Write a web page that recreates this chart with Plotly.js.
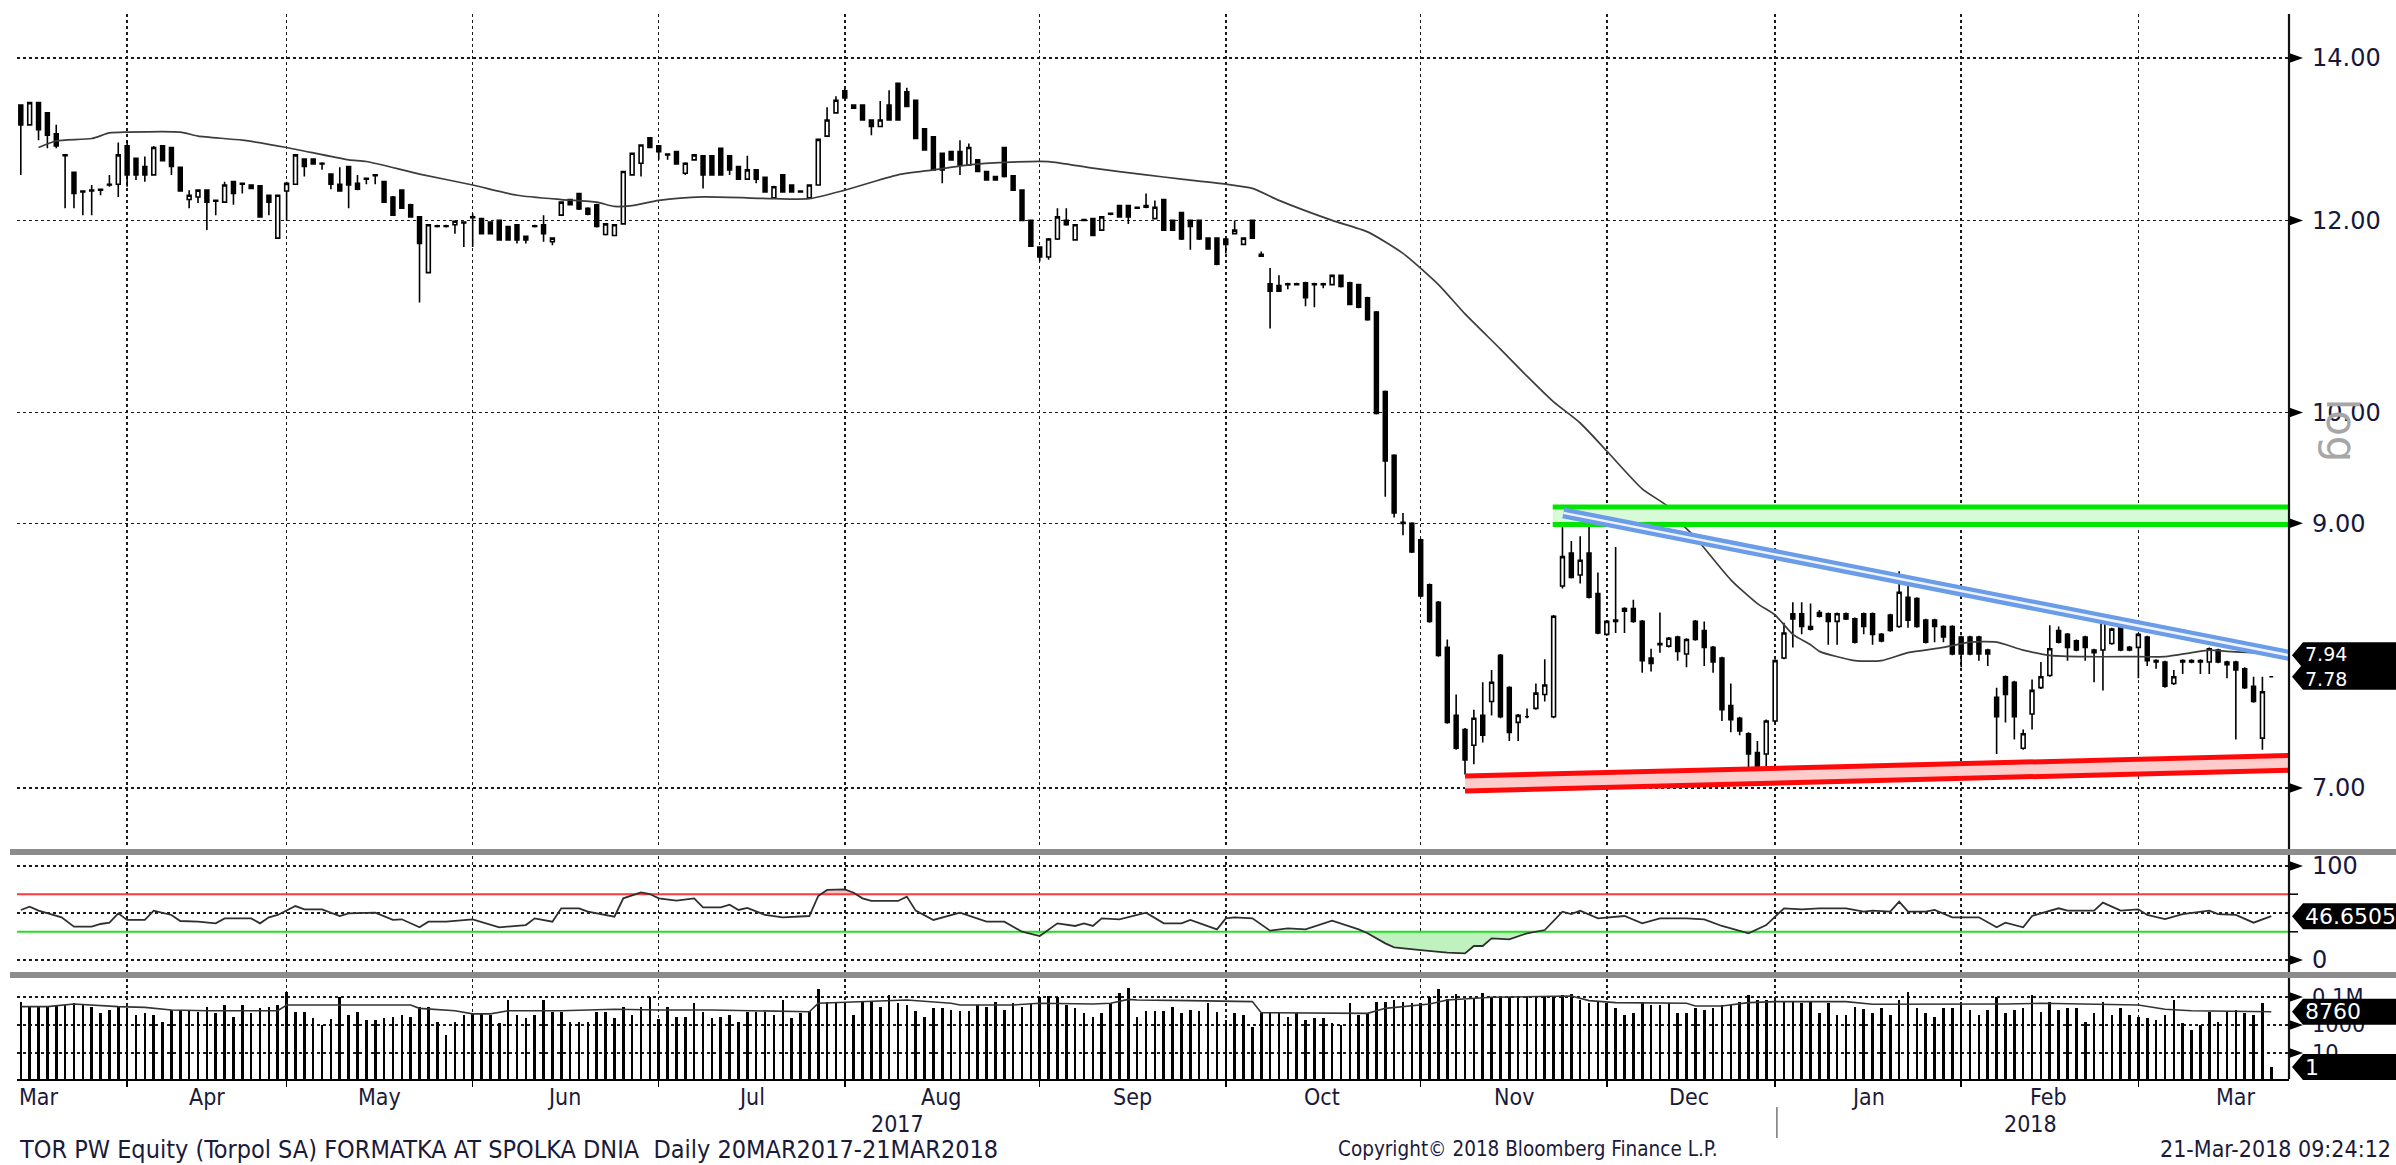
<!DOCTYPE html>
<html><head><meta charset="utf-8">
<script src="https://cdn.plot.ly/plotly-3.0.1.min.js"></script>
<style>html,body{margin:0;padding:0;background:#fff;overflow:hidden}#chart{width:2396px;height:1165px}</style>
</head><body><div id="chart"></div>
<script>
// ---------------- DATA ----------------
const openP = [
13.39,13.14,13.42,13.29,13.03,12.77,12.56,12.34,12.35,12.36,
12.42,12.42,12.88,12.73,12.63,12.53,12.88,12.86,12.62,12.24,
12.27,12.35,12.23,12.21,12.45,12.43,12.41,12.40,12.29,11.80,
12.34,12.42,12.72,12.72,12.67,12.54,12.42,12.63,12.43,12.49,
12.53,12.45,12.27,12.35,12.18,12.04,11.42,11.94,11.94,11.95,
11.98,12.04,12.02,11.98,12.00,11.93,11.95,11.82,11.94,11.95,
11.76,12.06,12.24,12.31,12.14,12.18,11.84,11.83,11.96,12.53,
12.67,12.98,12.88,12.78,12.81,12.55,12.71,12.76,12.76,12.85,
12.76,12.63,12.48,12.59,12.50,12.26,12.53,12.41,12.34,12.26,
12.41,13.00,13.29,13.57,13.39,13.39,13.20,13.12,13.39,13.67,
13.56,13.45,13.09,12.99,12.79,12.81,12.81,12.65,12.71,12.57,
12.51,12.86,12.52,12.35,12.00,11.70,11.59,11.79,12.00,11.78,
12.01,12.02,11.89,12.08,12.17,12.17,12.15,12.17,12.02,12.24,
12.00,12.09,12.00,12.00,11.80,11.80,11.79,11.85,11.73,12.00,
11.60,11.30,11.28,11.30,11.30,11.31,11.30,11.30,11.29,11.39,
11.31,11.29,11.15,11.00,10.20,9.60,9.01,9.00,8.86,8.49,
8.35,8.00,7.50,7.40,7.29,7.50,7.60,7.94,7.70,7.45,
7.49,7.55,7.65,7.49,8.48,8.75,8.57,8.75,8.42,8.10,
8.21,8.28,8.30,8.20,7.92,8.03,8.01,8.08,7.95,8.20,
8.13,8.00,7.92,7.57,7.48,7.37,7.24,7.23,7.46,7.92,
8.26,8.26,8.14,8.27,8.26,8.20,8.26,8.22,8.26,8.26,
8.10,8.25,8.16,8.39,8.38,8.21,8.21,8.16,8.16,8.08,
8.08,8.08,7.98,7.63,7.78,7.74,7.27,7.51,7.70,7.79,
8.13,8.10,8.05,8.08,7.98,7.98,8.03,8.16,7.98,8.00,
8.08,7.90,7.89,7.73,7.90,7.90,7.90,7.89,7.98,7.87,
7.89,7.84,7.71,7.34,7.78];
const highP = [
13.40,13.43,13.43,13.30,13.14,12.78,12.57,12.35,12.41,12.37,
12.53,12.92,12.94,12.74,12.75,12.88,12.89,12.87,12.63,12.35,
12.36,12.36,12.24,12.45,12.46,12.43,12.42,12.41,12.30,12.30,
12.45,12.78,12.73,12.73,12.68,12.55,12.62,12.64,12.53,12.50,
12.54,12.46,12.28,12.36,12.19,12.05,11.96,11.95,11.95,12.00,
11.99,12.08,12.03,11.99,12.01,11.94,11.96,11.83,11.95,12.06,
11.81,12.22,12.25,12.32,12.15,12.19,11.97,11.96,12.58,12.80,
12.90,12.99,12.89,12.79,12.82,12.68,12.78,12.77,12.77,12.86,
12.77,12.64,12.76,12.60,12.51,12.40,12.54,12.42,12.35,12.42,
12.97,13.36,13.50,13.60,13.40,13.40,13.21,13.44,13.58,13.68,
13.61,13.46,13.10,13.00,12.80,12.82,12.95,12.91,12.72,12.58,
12.52,12.87,12.53,12.36,12.01,11.71,11.80,12.14,12.14,11.96,
12.02,12.03,12.05,12.09,12.18,12.18,12.16,12.31,12.23,12.25,
12.01,12.10,12.01,12.01,11.81,11.81,11.80,12.00,11.81,12.01,
11.65,11.47,11.39,11.31,11.31,11.32,11.31,11.31,11.40,11.40,
11.32,11.30,11.16,11.01,10.21,9.61,9.09,9.01,8.87,8.50,
8.36,8.06,7.65,7.41,7.54,7.74,7.83,7.95,7.71,7.51,
7.55,7.73,7.91,8.25,9.11,8.85,8.89,9.01,8.59,8.21,
8.80,8.31,8.37,8.21,7.99,8.27,8.08,8.09,8.07,8.21,
8.20,8.01,7.93,7.73,7.49,7.38,7.32,7.47,7.91,8.19,
8.35,8.35,8.34,8.29,8.27,8.27,8.27,8.23,8.27,8.27,
8.11,8.26,8.60,8.53,8.39,8.22,8.22,8.17,8.17,8.09,
8.09,8.09,7.99,7.70,7.79,7.75,7.40,7.76,7.89,8.17,
8.16,8.11,8.06,8.09,7.99,8.23,8.15,8.21,8.01,8.11,
8.09,7.91,7.90,7.83,7.91,7.91,7.91,8.00,7.99,7.90,
7.90,7.85,7.78,7.78,7.78];
const lowP = [
12.53,13.13,12.95,12.85,12.85,12.14,12.14,12.06,12.06,12.29,
12.39,12.27,12.39,12.47,12.45,12.52,12.69,12.53,12.33,12.14,
12.20,11.89,12.06,12.20,12.18,12.31,12.36,12.03,12.06,11.79,
12.00,12.41,12.51,12.65,12.59,12.36,12.33,12.14,12.35,12.42,
12.42,12.20,12.05,12.13,12.03,11.10,11.41,11.92,11.92,11.85,
11.70,11.70,11.84,11.84,11.77,11.77,11.74,11.74,11.92,11.76,
11.72,12.05,12.17,12.12,12.06,11.92,11.83,11.82,11.95,12.52,
12.51,12.85,12.71,12.71,12.65,12.53,12.70,12.37,12.52,12.52,
12.53,12.47,12.47,12.43,12.32,12.25,12.32,12.32,12.32,12.25,
12.40,12.99,13.28,13.47,13.34,13.19,13.01,13.11,13.19,13.19,
13.36,12.96,12.82,12.58,12.43,12.70,12.53,12.64,12.56,12.46,
12.46,12.50,12.34,11.99,11.70,11.54,11.56,11.78,11.94,11.77,
11.99,11.82,11.88,12.06,12.03,11.96,12.13,12.14,12.01,11.88,
11.88,11.78,11.67,11.78,11.67,11.50,11.63,11.84,11.72,11.79,
11.59,10.83,11.21,11.24,11.28,11.06,11.05,11.25,11.28,11.26,
11.07,11.04,10.91,9.98,9.23,9.05,8.90,8.75,8.39,8.19,
7.93,7.44,7.26,7.09,7.16,7.31,7.50,7.48,7.32,7.32,
7.48,7.54,7.60,7.48,8.46,8.54,8.50,8.38,8.10,8.09,
8.11,8.11,8.19,7.81,7.82,7.96,8.00,7.90,7.85,8.05,
7.86,7.81,7.46,7.38,7.36,7.12,7.13,7.12,7.45,7.91,
8.00,8.10,8.13,8.23,8.02,8.02,8.21,8.03,8.10,8.02,
8.04,8.12,8.15,8.15,8.15,8.03,8.04,8.04,7.94,7.85,
7.94,7.90,7.86,7.23,7.45,7.33,7.26,7.40,7.69,7.78,
8.03,7.90,7.97,7.90,7.74,7.68,8.02,7.97,7.97,7.77,
7.86,7.84,7.70,7.72,7.80,7.88,7.80,7.80,7.88,7.77,
7.33,7.69,7.59,7.26,7.78];
const closeP = [
13.14,13.42,13.08,13.01,12.88,12.76,12.31,12.33,12.34,12.35,
12.41,12.77,12.53,12.53,12.53,12.86,12.70,12.63,12.34,12.29,
12.35,12.21,12.22,12.41,12.31,12.42,12.37,12.04,12.21,12.29,
12.43,12.77,12.63,12.66,12.66,12.42,12.34,12.41,12.36,12.48,
12.52,12.21,12.06,12.14,12.04,11.74,11.95,11.93,11.93,11.99,
11.97,12.03,11.85,11.85,11.78,11.78,11.78,11.78,11.93,11.85,
11.80,12.21,12.18,12.13,12.07,11.93,11.96,11.95,12.57,12.79,
12.89,12.86,12.81,12.77,12.66,12.67,12.77,12.53,12.53,12.53,
12.59,12.48,12.59,12.48,12.33,12.39,12.33,12.33,12.33,12.41,
12.96,13.20,13.45,13.48,13.35,13.20,13.12,13.20,13.20,13.20,
13.37,12.97,12.83,12.59,12.59,12.71,12.65,12.86,12.57,12.47,
12.47,12.51,12.35,12.00,11.71,11.59,11.79,12.04,11.95,11.95,
12.00,11.83,12.04,12.07,12.04,12.04,12.14,12.15,12.15,11.89,
11.89,11.79,11.93,11.79,11.68,11.51,11.73,11.89,11.80,11.80,
11.62,11.22,11.22,11.29,11.29,11.15,11.29,11.29,11.39,11.27,
11.08,11.05,10.92,9.99,9.55,9.09,9.00,8.76,8.40,8.20,
7.94,7.45,7.27,7.19,7.48,7.36,7.74,7.49,7.38,7.50,
7.49,7.66,7.72,8.24,8.72,8.55,8.69,8.39,8.11,8.20,
8.20,8.30,8.20,7.90,7.88,8.02,8.07,7.97,8.06,8.06,
8.00,7.89,7.54,7.47,7.39,7.23,7.14,7.46,7.90,8.11,
8.22,8.16,8.16,8.24,8.20,8.26,8.22,8.04,8.16,8.10,
8.05,8.13,8.43,8.21,8.16,8.04,8.16,8.08,7.95,7.95,
7.95,7.95,7.95,7.49,7.65,7.49,7.37,7.68,7.78,7.99,
8.04,8.00,7.98,8.00,7.96,8.22,8.14,7.98,8.00,8.10,
7.90,7.89,7.71,7.78,7.89,7.89,7.89,7.99,7.89,7.89,
7.83,7.70,7.60,7.67,7.78];
const volume = [
46800,20400,20400,20400,22900,26900,35500,31600,20400,7600,
11700,22900,15500,5200,6800,5200,1740,11700,11700,11700,
8900,20400,6800,26900,3980,26900,6800,15500,20400,26900,
240000,8900,8900,3000,1000,2500,105000,5200,8900,2290,
2290,3000,3980,5200,3980,20400,20400,1740,195,1740,
5200,6800,6800,5200,1320,61700,5200,3000,5200,61700,
8900,8900,1740,1740,1740,8900,8900,3000,20400,5200,
20400,105000,2500,20400,3980,3980,35500,8900,3000,3980,
5200,1740,8900,8900,8900,5200,61700,3000,6800,10500,
350000,46800,46800,35500,5200,46800,46800,20400,138000,35500,
26900,10500,3980,15500,15500,11700,10500,10500,26900,20400,
46800,11700,35500,20400,35500,105000,117000,105000,26900,15500,
6800,3980,6800,35500,204000,468000,3980,10500,10500,10500,
20400,6800,11700,10500,39800,8900,2290,6800,5200,760,
6800,7600,6800,3980,6800,2290,3000,3000,1320,1000,
35500,5200,6800,46800,46800,61700,46800,35500,39800,105000,
350000,67600,162000,61700,67600,204000,105000,105000,105000,105000,
105000,105000,105000,105000,138000,162000,61700,35500,46800,35500,
15500,5200,6800,35500,26900,26900,35500,6800,6800,15500,
11700,15500,26900,26900,46800,138000,61700,61700,61700,46800,
46800,35500,46800,6800,35500,5200,5200,20400,12900,6800,
15500,5200,61700,240000,15500,6800,3980,15500,15500,46800,
11700,5200,11700,105000,6800,11700,15500,138000,8900,46800,
11700,15500,15500,1740,6800,46800,5200,15500,5200,3980,
3000,2290,5200,61700,1480,440,1000,8900,1740,8900,
11700,6800,5200,35500,1];

// price moving average (thin grey line), read at sample days
const maX = [2,4,8,10,12,18,20,25,30,37,39,45,51,56,61,65,67,69,72,77,85,89,93,99,103,107,111,116,121,127,131,136,139,142,148,152,156,160,163,167,170,173,176,179,183,186,187,189,193,196,198,200,202,203,207,210,213,217,220,223,226,229,233,239,242,245,247,249,252,254];
const maY = [12.86,12.94,12.97,13.04,13.05,13.05,13.00,12.95,12.86,12.71,12.69,12.54,12.41,12.29,12.24,12.21,12.16,12.17,12.23,12.27,12.25,12.25,12.35,12.53,12.59,12.65,12.68,12.69,12.61,12.53,12.48,12.42,12.37,12.23,12.00,11.87,11.63,11.29,10.98,10.62,10.35,10.10,9.90,9.64,9.30,9.14,9.03,8.88,8.53,8.34,8.25,8.10,8.02,7.97,7.90,7.90,7.96,8.00,8.04,8.04,7.98,7.94,7.93,7.93,7.93,7.96,7.98,7.97,7.96,7.95];

// RSI readings
const rsiX = [0,1,2,3,4.6,6,8,9,10,11,12,14,15,17,18,20,21,22,23,26,27,28,29,31,32,34,36,37,40,42,43,45,46,48,51,54,57,58,60,61,63,64,67,68,70,71,72,74,76,77,79,80,81,82,84,86,89,90,91,93,94,95,96,99,100,101,103,106,109,111,113,115,117,119,120,121,122,124,127,129,131,132,135,136,137,139,141,143,145,148,151,152,154,155,158,161,163,164,165,166,168,170,172,174,175,176,178,181,183,185,188,190,192,195,197,199,201,203,206,208,209,211,212,213,215,216,218,221,223,224,226,227,230,231,234,235,237,239,240,242,244,247,248,250,252,254];
const rsiY = [53.2,56.7,52.5,49.6,45.4,35.5,35.5,38.3,39.7,49.6,42.6,42.6,52.5,47.9,41.5,40.8,39.7,39.0,44.3,44.3,39.0,45.4,47.9,57.4,53.9,53.9,46.8,49.6,50.4,42.6,43.3,34.8,40.8,40.8,43.3,34.8,37.2,44.3,40.8,55.0,55.0,51.4,46.1,65.6,72.0,70.2,65.6,63.1,65.6,56.0,56.0,58.9,53.2,55.5,47.9,45.4,46.8,68.1,74.5,75.2,71.6,65.6,62.8,62.8,67.4,52.5,42.6,50.4,40.8,40.8,30.1,25.5,39.0,36.2,39.0,36.2,44.3,43.3,50.4,39.0,39.0,42.6,32.6,44.3,45.4,44.3,31.2,33.7,32.6,41.9,32.6,28.4,17.7,13.5,10.6,7.8,7.1,14.9,14.9,23.0,21.9,28.4,31.9,51.4,48.9,52.5,44.3,46.8,39.0,44.3,44.3,43.3,36.2,28.4,37.2,55.0,53.9,55.0,55.0,51.4,52.5,51.4,62.1,51.4,51.4,53.2,45.4,45.4,34.8,39.7,34.8,46.8,55.0,52.5,52.5,61.0,52.5,53.9,47.9,43.6,48.9,52.5,48.9,47.9,39.7,46.65];
const rsiUpper = 70, rsiLower = 30;

// volume moving average
const volMaX = [0,3,6,8,11,14,17,21,29,30,38,44,45,49,51,53,55,61,67,72,78,84,89,90,99,100,105,106,112,115,121,123,125,126,132,139,140,145,147,152,154,159,161,166,175,177,180,188,189,192,195,198,206,209,224,228,239,242,245,254];
const volMaY = [20400,20400,31600,26900,20400,18200,11700,10500,10500,26900,26900,26900,15500,10500,6200,6200,10500,10500,13200,11700,11700,10500,8900,35500,55000,61700,35500,26900,26900,35500,31600,35500,67600,61700,55000,46800,7600,7600,6800,6800,15500,31600,61700,95500,117500,55000,39800,35500,22900,22900,39800,46800,46800,30200,31600,35500,26900,13200,10500,8760];

// hand-drawn lines (start day, end day, prices)
const greenX = [172.9, 256.0], greenLow = [8.99, 8.99], greenHigh = [9.14, 9.14];
const redX = [163.0, 256.0], redLow = [6.98, 7.12], redHigh = [7.08, 7.22];
const blueX = [174.1, 256.0], blueY = [9.09, 7.94];

// axis labels
const monthStartIdx = [12,30,51,72,93,115,136,158,179,198,219,239];
const monthLabels = ['Mar','Apr','May','Jun','Jul','Aug','Sep','Oct','Nov','Dec','Jan','Feb','Mar'];
const monthLabelIdx = [2.1,21,40.5,61.3,82.5,103.9,125.5,146.9,168.5,188.3,208.5,228.9,250];
const yearLabels = ['2017','2018'];
const yearLabelIdx = [99, 226.8];
const yearDividerIdx = 198.2;
const priceTicks = [7, 9, 10, 12, 14];
const rsiTicks = [0, 50, 100];
const rsiTickText = ['0', '', '100'];
const rsiArrowTicks = [0, 100];
const volTicks = [10, 1000, 100000];
const volTickText = ['10', '1000', '0.1M'];
const lastPrice = 7.78, trendLast = 7.94, lastRsi = 46.6505, volMaLast = 8760, lastVolume = 1;
const titleText = 'TOR PW Equity (Torpol SA) FORMATKA AT SPOLKA DNIA&nbsp;&nbsp;Daily 20MAR2017-21MAR2018';
const copyText = 'Copyright\u00A9 2018 Bloomberg Finance L.P.';
const stampText = '21-Mar-2018 09:24:12';

// ---------------- LAYOUT HELPERS ----------------
const W = 2396, H = 1165, ML = 17, MR = 107, MT = 14, MB = 86;
const PW = W - ML - MR, PH = H - MT - MB;
const pxX = p => (p - ML) / PW;           // pixel -> paper x
const pxY = p => (H - MB - p) / PH;       // pixel -> paper y
const X0 = -0.43, X1 = 256.0;
const idx = closeP.map((_, i) => i);

const dom1 = [pxY(848), 1], rng1 = [0.82037, 1.16430];
const dom2 = [pxY(972), pxY(856)], rng2 = [-12.77, 110.64];
const dom3 = [0, pxY(979)], rng3 = [-0.857, 6.286];
const toPaper = (dom, rng, r) => dom[0] + (r - rng[0]) / (rng[1] - rng[0]) * (dom[1] - dom[0]);
const paperMain = v => toPaper(dom1, rng1, Math.log10(v));
const paperRsi = v => toPaper(dom2, rng2, v);
const paperVol = v => toPaper(dom3, rng3, Math.log10(v));

const condFont = '"DejaVu Sans Condensed", "Liberation Sans Narrow", "Arial Narrow", sans-serif';
const axFont = 'DejaVu Sans, Verdana, sans-serif';
const tickFont = {family: axFont, size: 24, color: '#17173d'};
const volTickFont = {family: axFont, size: 21, color: '#17173d'};
const lblFont = {family: condFont, size: 23, color: '#1a1a3a'};
const gridStyle = {showgrid: true, gridcolor: '#1a1a1a', griddash: 'dot', gridwidth: 1.5, zeroline: false};

// ---------------- TRACES ----------------
const traces = [];
traces.push({type: 'scatter', mode: 'lines', x: maX, y: maY, xaxis: 'x', yaxis: 'y',
  line: {color: '#3c3c3c', width: 1.7, shape: 'spline', smoothing: 0.6}, hoverinfo: 'skip'});
traces.push({type: 'candlestick', x: idx, open: openP, high: highP, low: lowP, close: closeP,
  xaxis: 'x', yaxis: 'y', whiskerwidth: 0, hoverinfo: 'skip',
  increasing: {line: {color: '#000', width: 1.6}, fillcolor: '#ffffff'},
  decreasing: {line: {color: '#000', width: 1.6}, fillcolor: '#000000'}});
traces.push({type: 'scatter', mode: 'lines', x: greenX, y: greenLow, xaxis: 'x', yaxis: 'y',
  line: {color: '#00e600', width: 5}, hoverinfo: 'skip'});
traces.push({type: 'scatter', mode: 'lines', x: greenX, y: greenHigh, xaxis: 'x', yaxis: 'y',
  fill: 'tonexty', fillcolor: '#d6fbd6', line: {color: '#00e600', width: 5}, hoverinfo: 'skip'});
traces.push({type: 'scatter', mode: 'lines', x: redX, y: redLow, xaxis: 'x', yaxis: 'y',
  line: {color: '#ff0a0a', width: 5}, hoverinfo: 'skip'});
traces.push({type: 'scatter', mode: 'lines', x: redX, y: redHigh, xaxis: 'x', yaxis: 'y',
  fill: 'tonexty', fillcolor: '#ffcccc', line: {color: '#ff0a0a', width: 5}, hoverinfo: 'skip'});
traces.push({type: 'scatter', mode: 'lines', x: blueX, y: blueY, xaxis: 'x', yaxis: 'y',
  line: {color: '#6b9ce8', width: 11}, hoverinfo: 'skip'});
traces.push({type: 'scatter', mode: 'lines', x: blueX, y: blueY, xaxis: 'x', yaxis: 'y',
  line: {color: '#eef3ff', width: 2.5}, hoverinfo: 'skip'});

// RSI panel
const rsiBelow = rsiY.map(v => Math.min(v, rsiLower));
const rsiAbove = rsiY.map(v => Math.max(v, rsiUpper));
traces.push({type: 'scatter', mode: 'lines', x: rsiX, y: rsiX.map(() => rsiLower), xaxis: 'x', yaxis: 'y2',
  line: {width: 0, color: 'rgba(0,0,0,0)'}, hoverinfo: 'skip'});
traces.push({type: 'scatter', mode: 'lines', x: rsiX, y: rsiBelow, xaxis: 'x', yaxis: 'y2',
  fill: 'tonexty', fillcolor: '#bff2bf', line: {width: 0, color: 'rgba(0,0,0,0)'}, hoverinfo: 'skip'});
traces.push({type: 'scatter', mode: 'lines', x: rsiX, y: rsiX.map(() => rsiUpper), xaxis: 'x', yaxis: 'y2',
  line: {width: 0, color: 'rgba(0,0,0,0)'}, hoverinfo: 'skip'});
traces.push({type: 'scatter', mode: 'lines', x: rsiX, y: rsiAbove, xaxis: 'x', yaxis: 'y2',
  fill: 'tonexty', fillcolor: '#ffc2c2', line: {width: 0, color: 'rgba(0,0,0,0)'}, hoverinfo: 'skip'});
traces.push({type: 'scatter', mode: 'lines', x: [X0, X1], y: [rsiUpper, rsiUpper], xaxis: 'x', yaxis: 'y2',
  line: {color: '#ff3a3a', width: 2}, hoverinfo: 'skip'});
traces.push({type: 'scatter', mode: 'lines', x: [X0, X1], y: [rsiLower, rsiLower], xaxis: 'x', yaxis: 'y2',
  line: {color: '#22e022', width: 2}, hoverinfo: 'skip'});
traces.push({type: 'scatter', mode: 'lines', x: rsiX, y: rsiY, xaxis: 'x', yaxis: 'y2',
  line: {color: '#2f2f2f', width: 1.8}, hoverinfo: 'skip'});

// volume panel
traces.push({type: 'bar', x: idx, y: volume, xaxis: 'x', yaxis: 'y3', width: 0.29,
  marker: {color: '#000', line: {width: 0}}, hoverinfo: 'skip'});
traces.push({type: 'scatter', mode: 'lines', x: volMaX, y: volMaY, xaxis: 'x', yaxis: 'y3',
  line: {color: '#333', width: 1.6}, hoverinfo: 'skip'});

// ---------------- ANNOTATIONS & SHAPES ----------------
const ann = [];
const shapes = [];
monthLabels.forEach((m, k) => ann.push({xref: 'x', yref: 'paper', x: monthLabelIdx[k], y: pxY(1097),
  text: m, showarrow: false, font: lblFont, xanchor: 'center', yanchor: 'middle'}));
yearLabels.forEach((t, k) => ann.push({xref: 'x', yref: 'paper', x: yearLabelIdx[k], y: pxY(1124),
  text: t, showarrow: false, font: lblFont, xanchor: 'center', yanchor: 'middle'}));
ann.push({xref: 'paper', yref: 'paper', x: pxX(18), y: pxY(1149), xanchor: 'left', yanchor: 'middle',
  text: titleText, showarrow: false, borderpad: 0, font: Object.assign({}, lblFont, {size: 25})});
ann.push({xref: 'paper', yref: 'paper', x: pxX(1337), y: pxY(1149), xanchor: 'left', yanchor: 'middle',
  text: copyText, showarrow: false, borderpad: 0, font: Object.assign({}, lblFont, {size: 20.5})});
ann.push({xref: 'paper', yref: 'paper', x: pxX(2392), y: pxY(1149), xanchor: 'right', yanchor: 'middle',
  text: stampText, showarrow: false, borderpad: 0, font: lblFont});
// rotated "log" marker of the price axis
ann.push({xref: 'paper', yref: 'paper', x: pxX(2368), y: pxY(430), text: 'log', textangle: 90,
  showarrow: false, font: {family: axFont, size: 42, color: '#a6a6a6'}});

// small black arrow heads at the labelled ticks (drawn as shapes)
function tri(yp) {
  shapes.push({type: 'path', xref: 'paper', xsizemode: 'pixel', xanchor: 1, yref: 'paper',
    ysizemode: 'pixel', yanchor: yp, path: 'M 0,5 L 14,0 L 0,-5 Z', fillcolor: '#000', line: {width: 0}});
}
priceTicks.forEach(v => tri(paperMain(v)));
rsiArrowTicks.forEach(v => tri(paperRsi(v)));
volTicks.forEach(v => tri(paperVol(v)));

// black value tags pointing at the axis
function tag(yp) {
  shapes.push({type: 'path', xref: 'paper', xsizemode: 'pixel', xanchor: 1, yref: 'paper',
    ysizemode: 'pixel', yanchor: yp, path: 'M 3,0 L 14,13 L 115,13 L 115,-13 L 14,-13 Z',
    fillcolor: '#000', line: {width: 0}});
}
function tagText(yp, text, size) {
  ann.push({xref: 'paper', x: 1, xanchor: 'left', xshift: 14, yref: 'paper', y: yp, yanchor: 'middle',
    text: text, showarrow: false, align: 'left', font: {family: axFont, size: size, color: '#fff'}});
}
tag(paperMain(trendLast));
tag(paperMain(lastPrice));
tagText((paperMain(trendLast) + paperMain(lastPrice)) / 2, trendLast.toFixed(2) + '<br>' + lastPrice.toFixed(2), 19);
tag(paperRsi(lastRsi)); tagText(paperRsi(lastRsi), String(lastRsi), 22);
tag(paperVol(volMaLast)); tagText(paperVol(volMaLast), String(volMaLast), 22);
tag(paperVol(lastVolume)); tagText(paperVol(lastVolume), String(lastVolume), 22);

// right axis line
shapes.push({type: 'line', xref: 'paper', yref: 'paper', x0: 1, x1: 1, y0: 0, y1: 1,
  line: {color: '#111', width: 2.2}});
// grey panel separators
[852, 975].forEach(p => shapes.push({type: 'line', xref: 'paper', yref: 'paper',
  x0: pxX(10), x1: pxX(W), y0: pxY(p), y1: pxY(p), line: {color: '#8c8c8c', width: 6}}));
// RSI minor ticks at 30/70
[rsiLower, rsiUpper].forEach(v => shapes.push({type: 'line', xref: 'paper', yref: 'y2',
  x0: 1, x1: pxX(2298), y0: v, y1: v, line: {color: '#000', width: 1.5}}));
// year divider under the axis
shapes.push({type: 'line', xref: 'x', yref: 'paper', x0: yearDividerIdx, x1: yearDividerIdx,
  y0: pxY(1107), y1: pxY(1138), line: {color: '#777', width: 1.5}});

const layout = {
  width: W, height: H,
  margin: {l: ML, r: MR, t: MT, b: MB, pad: 0},
  paper_bgcolor: '#fff', plot_bgcolor: '#fff',
  showlegend: false, boxgap: 0.38, bargap: 0,
  xaxis: Object.assign({range: [X0, X1], anchor: 'y3', tickvals: monthStartIdx, showticklabels: false,
    ticks: 'outside', ticklen: 6, tickwidth: 1.5, tickcolor: '#000', showline: true, linecolor: '#000',
    linewidth: 2, rangeslider: {visible: false}, fixedrange: true}, gridStyle),
  yaxis: Object.assign({domain: dom1, type: 'log', range: rng1, side: 'right',
    anchor: 'x', tickvals: priceTicks, ticktext: priceTicks.map(v => v.toFixed(2)), tickfont: tickFont,
    ticks: '', ticklabelstandoff: 22, showline: false, fixedrange: true}, gridStyle),
  yaxis2: Object.assign({domain: dom2, range: rng2, side: 'right',
    anchor: 'x', tickvals: rsiTicks, ticktext: rsiTickText, tickfont: tickFont, ticks: '',
    ticklabelstandoff: 22, showline: false, fixedrange: true}, gridStyle),
  yaxis3: Object.assign({domain: dom3, type: 'log', range: rng3, side: 'right',
    anchor: 'x', tickvals: volTicks, ticktext: volTickText, tickfont: volTickFont, ticks: '',
    ticklabelstandoff: 22, showline: false, fixedrange: true}, gridStyle),
  shapes: shapes,
  annotations: ann
};

Plotly.newPlot('chart', traces, layout, {staticPlot: true, displayModeBar: false});
</script>
</body></html>
